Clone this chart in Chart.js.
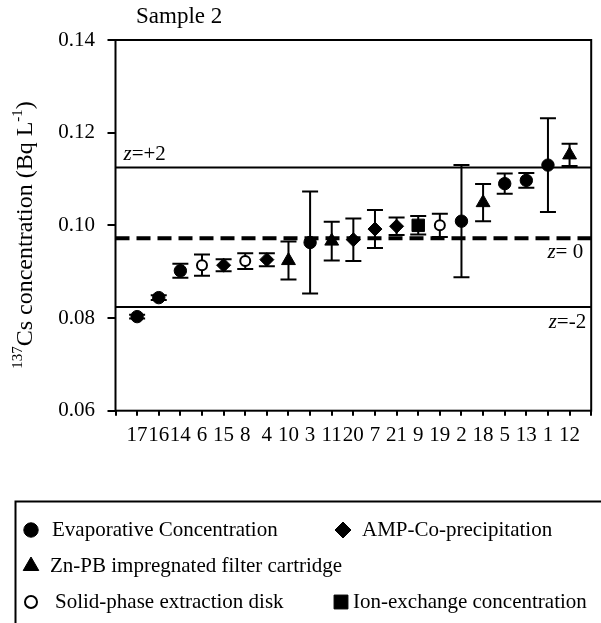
<!DOCTYPE html>
<html><head><meta charset="utf-8">
<script src="https://cdn.jsdelivr.net/npm/chart.js@4.4.1/dist/chart.umd.min.js"></script>
<style>html,body{margin:0;padding:0;background:#fff;}#wrap{position:relative;width:601px;height:623px;}</style>
</head><body><div id="wrap"><canvas id="c" width="601" height="623"></canvas></div>
<script>
// ---- data ----
const chartTitle = 'Sample 2';
const categories = ['17','16','14','6','15','8','4','10','3','11','20','7','21','9','19','2','18','5','13','1','12'];
const yTickValues = [0.06, 0.08, 0.10, 0.12, 0.14];

const evapLabs   = ['17','16','14','3','2','5','13','1'];
const evapValues = [0.0803,0.0844,0.0902,0.0963,0.1009,0.1090,0.1097,0.1130];
const evapErrors = [0.0004,0.0005,0.0015,0.0110,0.0121,0.0022,0.0016,0.0101];

const ampLabs    = ['15','4','20','7','21'];
const ampValues  = [0.0914,0.0926,0.0969,0.0992,0.0998];
const ampErrors  = [0.0013,0.0014,0.0046,0.0041,0.0019];

const znLabs     = ['10','11','18','12'];
const znValues   = [0.0924,0.0966,0.1049,0.1152];
const znErrors   = [0.0041,0.0042,0.0040,0.0024];

const speLabs    = ['6','8','19'];
const speValues  = [0.0914,0.0923,0.1000];
const speErrors  = [0.0023,0.0017,0.0025];

const ionLabs    = ['9'];
const ionValues  = [0.1000];
const ionErrors  = [0.0020];

const zPlus2 = 0.1125, zZero = 0.0972, zMinus2 = 0.0824;
const seriesNames = ['Evaporative Concentration','AMP-Co-precipitation','Zn-PB impregnated filter cartridge','Solid-phase extraction disk','Ion-exchange concentration'];

// ---- build ----
const pts = (labs, vals) => labs.map((l,i)=>({x: categories.indexOf(l)+1, y: vals[i]}));
const FONT = "'Liberation Serif','Times New Roman',serif";
Chart.defaults.font.family = FONT;
Chart.defaults.font.size = 21;
Chart.defaults.color = '#000';

const mk = (label, labs, vals, errs, style, r, fill) => ({
  type:'scatter', label, data: pts(labs, vals), errors: errs,
  pointStyle: style, pointRadius: r, pointHoverRadius: r,
  backgroundColor: fill, borderColor:'#000', borderWidth: fill==='#fff'?2:1, order: 0
});
const hline = (v, dash, w) => ({
  type:'line', label:'', data:[{x:0,y:v},{x:22,y:v}], borderColor:'#000', borderWidth:w,
  borderDash:dash, pointRadius:0, order: 5, borderCapStyle:'butt'
});

const datasets = [
  mk(seriesNames[0], evapLabs, evapValues, evapErrors, 'circle', 6.2, '#000'),
  mk(seriesNames[1], ampLabs, ampValues, ampErrors, 'rectRot', 7, '#000'),
  mk(seriesNames[2], znLabs, znValues, znErrors, 'triangle', 8, '#000'),
  mk(seriesNames[3], speLabs, speValues, speErrors, 'circle', 5, '#fff'),
  mk(seriesNames[4], ionLabs, ionValues, ionErrors, 'rect', 8.8, '#000'),
  hline(zPlus2, [], 2),
  hline(zZero, [14,7], 4),
  hline(zMinus2, [], 2)
];

const errorBars = {
  id:'errorBars',
  beforeDatasetsDraw(chart){
    const {ctx, scales:{x,y}} = chart;
    ctx.save(); ctx.strokeStyle='#000'; ctx.lineWidth=2;
    chart.data.datasets.forEach(ds=>{
      if(!ds.errors) return;
      ds.data.forEach((p,i)=>{
        const px=x.getPixelForValue(p.x);
        const t=y.getPixelForValue(p.y+ds.errors[i]);
        const b=y.getPixelForValue(p.y-ds.errors[i]);
        ctx.beginPath();
        ctx.moveTo(px,t); ctx.lineTo(px,b);
        ctx.moveTo(px-8,t); ctx.lineTo(px+8,t);
        ctx.moveTo(px-8,b); ctx.lineTo(px+8,b);
        ctx.stroke();
      });
    });
    ctx.restore();
  }
};

function drawRich(ctx, parts, x, y, align){
  let total=0;
  parts.forEach(p=>{ctx.font=p.font; p.w=ctx.measureText(p.t).width; total+=p.w;});
  let cx = align==='center'? x-total/2 : align==='right'? x-total : x;
  parts.forEach(p=>{ctx.font=p.font; ctx.fillText(p.t, cx, y+(p.dy||0)); cx+=p.w;});
}

const decor = {
  id:'decor',
  afterDatasetsDraw(chart){
    const {ctx, chartArea:a} = chart;
    ctx.save();
    ctx.strokeStyle='#000'; ctx.lineWidth=2;
    ctx.strokeRect(a.left, a.top, a.right-a.left, a.bottom-a.top);
    ctx.fillStyle='#000'; ctx.textBaseline='middle';
    const it = "italic 21px "+FONT, nm = "21px "+FONT;
    drawRich(ctx,[{t:'z',font:it},{t:'=+2',font:nm}], a.left+8, chart.scales.y.getPixelForValue(zPlus2)-13, 'left');
    drawRich(ctx,[{t:'z',font:it},{t:'= 0',font:nm}], a.right-8, chart.scales.y.getPixelForValue(zZero)+14, 'right');
    drawRich(ctx,[{t:'z',font:it},{t:'=-2',font:nm}], a.right-5, chart.scales.y.getPixelForValue(zMinus2)+16, 'right');
    ctx.restore();
  },
  afterDraw(chart){
    const {ctx} = chart;
    ctx.save(); ctx.fillStyle='#000'; ctx.textBaseline='middle';
    ctx.font = "23px "+FONT; ctx.textAlign='left';
    ctx.fillText(chartTitle, 136, 17);
    ctx.translate(26, 235); ctx.rotate(-Math.PI/2);
    const big="24px "+FONT, sm="15px "+FONT;
    drawRich(ctx,[{t:'137',font:sm,dy:-8},{t:'Cs concentration (Bq L',font:big},{t:'-1',font:sm,dy:-8},{t:')',font:big}],0,0,'center');
    ctx.restore();
    // legend
    ctx.save();
    ctx.strokeStyle='#000'; ctx.lineWidth=2;
    ctx.strokeRect(15.5, 501.5, 700, 200);
    const items = [
      {ds:0, mx:31, tx:52, y:530},
      {ds:1, mx:343, tx:362, y:530},
      {ds:2, mx:31, tx:50, y:566},
      {ds:3, mx:31, tx:55, y:602},
      {ds:4, mx:341, tx:353, y:602}
    ];
    items.forEach(it=>{
      const ds = chart.data.datasets[it.ds];
      ctx.fillStyle = ds.backgroundColor; ctx.strokeStyle='#000'; ctx.lineWidth = ds.borderWidth;
      Chart.helpers.drawPoint(ctx,{pointStyle:ds.pointStyle, radius:ds.pointRadius+1, rotation:0, borderWidth:ds.borderWidth}, it.mx, it.y);
      ctx.fillStyle='#000'; ctx.font="21px "+FONT; ctx.textBaseline='middle'; ctx.textAlign='left';
      ctx.fillText(ds.label, it.tx, it.y);
    });
    ctx.restore();
  }
};

new Chart(document.getElementById('c'), {
  type:'scatter',
  data:{datasets},
  options:{
    responsive:false, animation:false,
    layout:{padding:{left:0, top:40, right:2.7, bottom:172.3}},
    plugins:{legend:{display:false}, tooltip:{enabled:false}, title:{display:false}},
    scales:{
      x:{type:'linear', min:0, max:22,
        afterFit(s){ s.height = 40; },
        afterBuildTicks(s){ s.ticks = Array.from({length:23},(_, i)=>({value:i})); },
        border:{display:false},
        grid:{drawOnChartArea:false, drawTicks:true, tickLength:5, color:'#000', lineWidth:2},
        ticks:{padding:7, maxRotation:0, autoSkip:false, callback:(v)=> categories[v-1] ?? ''}
      },
      y:{type:'linear', min:0.06, max:0.14,
        afterFit(s){ s.width = 115.5; },
        afterBuildTicks(s){ s.ticks = yTickValues.map(v=>({value:v})); },
        border:{display:false},
        grid:{drawOnChartArea:false, drawTicks:true, tickLength:8, color:'#000', lineWidth:2},
        ticks:{padding:12.5, callback:(v)=> v.toFixed(2)}
      }
    }
  },
  plugins:[errorBars, decor]
});
</script></body></html>
